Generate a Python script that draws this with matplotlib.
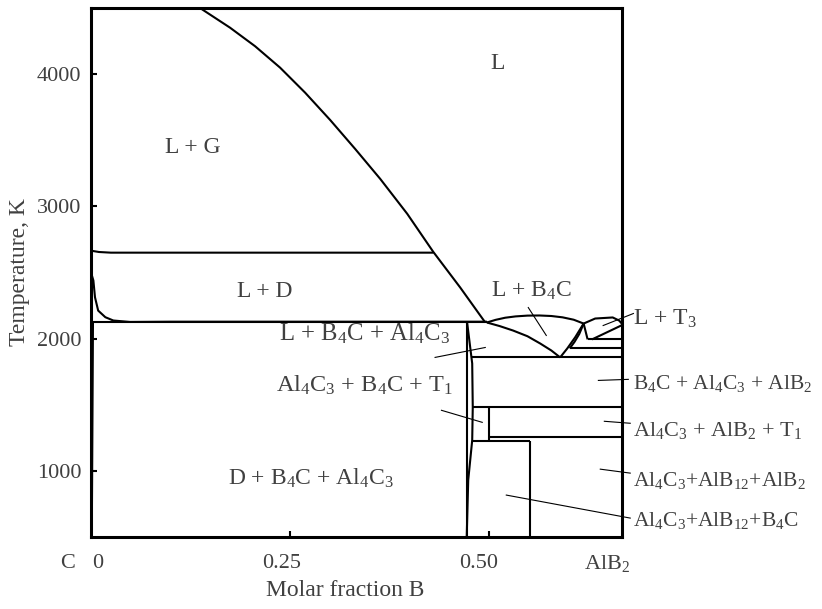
import numpy as np
import matplotlib
matplotlib.use("Agg")
import matplotlib.pyplot as plt

plt.rcParams['font.family'] = ['Liberation Serif', 'DejaVu Serif']
plt.rcParams['mathtext.fontset'] = 'custom'
plt.rcParams['mathtext.rm'] = 'Liberation Serif'
plt.rcParams['mathtext.default'] = 'regular'

TXT = '#404040'
X_END = 2 / 3  # AlB2

# phase boundaries, (molar fraction B, T in K)
liq_x = [0.1118, 0.1394, 0.1746, 0.2060, 0.2374, 0.2688, 0.3003, 0.3317, 0.3631,
         0.3970, 0.4296, 0.4636, 0.4950]
liq_t = [4588, 4490, 4351, 4211, 4049, 3860, 3653, 3434, 3208, 2944, 2657, 2386, 2122]

lg_x = [0.0, 0.010, 0.025, 0.430]
lg_t = [2665, 2655, 2650, 2650]

eut_x = [0.003, 0.497]
eut_t = [2122, 2122]

dliq_x = [0.001, 0.003, 0.005, 0.009, 0.018, 0.028, 0.049, 0.10, 0.497]
dliq_t = [2480, 2439, 2313, 2212, 2162, 2137, 2126, 2128, 2128]

gsol_x = [0.003, 0.0015]
gsol_t = [2122, 500]

al4c3_x = [0.4717, 0.4717]
al4c3_t = [500, 2122]

lens_x = [0.4717, 0.4724, 0.4786, 0.4793, 0.4786, 0.4736, 0.4717]
lens_t = [2122, 2114, 1812, 1481, 1232, 930, 500]

dome_x = [0.497, 0.508, 0.520, 0.533, 0.548, 0.563, 0.578, 0.592, 0.606, 0.6185]
dome_t = [2122, 2142, 2158, 2168, 2174, 2175, 2171, 2161, 2143, 2114]

b4c_x = [0.497, 0.513, 0.530, 0.548, 0.564, 0.578, 0.589]
b4c_t = [2122, 2095, 2061, 2018, 1963, 1910, 1858]

rise1_x = [0.589, 0.598, 0.608, 0.6185]
rise1_t = [1858, 1926, 2011, 2114]
rise2_x = [0.601, 0.607, 0.613, 0.6185]
rise2_t = [1926, 1975, 2035, 2114]

t3_x = [0.6185, 0.633, 0.655, 0.663, X_END]
t3_t = [2114, 2152, 2160, 2137, 2112]
t3low_x = [X_END, 0.629]
t3low_t = [2102, 1994]
t3v_x = [0.6185, 0.6235]
t3v_t = [2114, 1994]

# horizontal invariant lines: (T, x from, x to)
iso_t = [1994, 1926, 1858, 1481, 1254, 1224]
iso_x0 = [0.6235, 0.601, 0.4786, 0.4793, 0.500, 0.4786]
iso_x1 = [X_END, X_END, X_END, X_END, X_END, 0.5515]

# vertical lines: (x, T from, T to)
vert_x = [0.500, 0.5515]
vert_t0 = [1224, 500]
vert_t1 = [1481, 1224]

# region labels
lab_txt = ['L', 'L + G', 'L + D', 'L + B$_4$C', 'L + B$_4$C + Al$_4$C$_3$',
           'Al$_4$C$_3$ + B$_4$C + T$_1$', 'D + B$_4$C + Al$_4$C$_3$']
lab_x = [0.510, 0.128, 0.2186, 0.5528, 0.343, 0.343, 0.276]
lab_t = [4083, 3442, 2356, 2363, 2039, 1647, 945]
lab_fs = [17, 17, 17, 17, 17.8, 17.5, 17]

side_txt = ['L + T$_3$', 'B$_4$C + Al$_4$C$_3$ + AlB$_2$', 'Al$_4$C$_3$ + AlB$_2$ + T$_1$',
            'Al$_4$C$_3$+AlB$_{12}$+AlB$_2$', 'Al$_4$C$_3$+AlB$_{12}$+B$_4$C']
side_x = 0.681
side_t = [2152, 1662, 1307, 930, 621]
side_fs = [17, 15.5, 16, 15.5, 15.5]

# leader lines
lead_x0 = [0.549, 0.432, 0.440, 0.637, 0.6445, 0.6394, 0.5214, 0.643]
lead_t0 = [2235, 1858, 1458, 1684, 1375, 1013, 817, 2099]
lead_x1 = [0.5716, 0.495, 0.4912, 0.6746, 0.677, 0.677, 0.677, 0.681]
lead_t1 = [2024, 1933, 1367, 1692, 1360, 983, 643, 2190]

fig = plt.figure(figsize=(8.22, 6.09), dpi=100)
ax = fig.add_axes([91 / 822, 72 / 609, 531 / 822, 529 / 609])
ax.set_xlim(0, X_END)
ax.set_ylim(500, 4500)

lw = 1.5
for xs, ts in [(liq_x, liq_t), (lg_x, lg_t), (eut_x, eut_t), (dliq_x, dliq_t),
               (al4c3_x, al4c3_t), (lens_x, lens_t), (dome_x, dome_t), (b4c_x, b4c_t),
               (rise1_x, rise1_t), (rise2_x, rise2_t), (t3_x, t3_t),
               (t3low_x, t3low_t), (t3v_x, t3v_t)]:
    ax.plot(xs, ts, color='black', lw=lw, solid_capstyle='butt', solid_joinstyle='round')
ax.plot(gsol_x, gsol_t, color='black', lw=0.9)

ax.hlines(iso_t, iso_x0, iso_x1, color='black', lw=lw)
ax.vlines(vert_x, vert_t0, vert_t1, color='black', lw=lw)

for i in range(len(lead_x0)):
    ax.plot([lead_x0[i], lead_x1[i]], [lead_t0[i], lead_t1[i]], color='black',
            lw=0.8, clip_on=False)

for s, x, t, f in zip(lab_txt, lab_x, lab_t, lab_fs):
    ax.text(x, t, s, ha='center', va='center', fontsize=f, color=TXT)
for s, t, f in zip(side_txt, side_t, side_fs):
    ax.text(side_x, t, s, ha='left', va='center', fontsize=f, color=TXT, clip_on=False)

for sp in ax.spines.values():
    sp.set_linewidth(2.2)

ax.set_yticks([1000, 2000, 3000, 4000])
ax.set_xticks([0.25, 0.5])
ax.set_xticklabels(['', ''])
ax.tick_params(direction='in', length=4.5, width=1.5, labelsize=16, labelcolor=TXT, pad=7)

# x labels placed like the original
xl_txt = ['C', '0', '0.25', '0.50', 'AlB$_2$']
xl_px = [68, 98, 282, 479, 607]
for s, px in zip(xl_txt, xl_px):
    fig.text(px / 822, 1 - 563 / 609, s, ha='center', va='center', fontsize=16, color=TXT)

fig.text(20 / 822, 1 - 272 / 609, 'Temperature, K', rotation=90, ha='center', va='center',
         fontsize=17, color=TXT)
fig.text(345 / 822, 1 - 591 / 609, 'Molar fraction B', ha='center', va='center',
         fontsize=17, color=TXT)

fig.savefig('out.png', dpi=100)
